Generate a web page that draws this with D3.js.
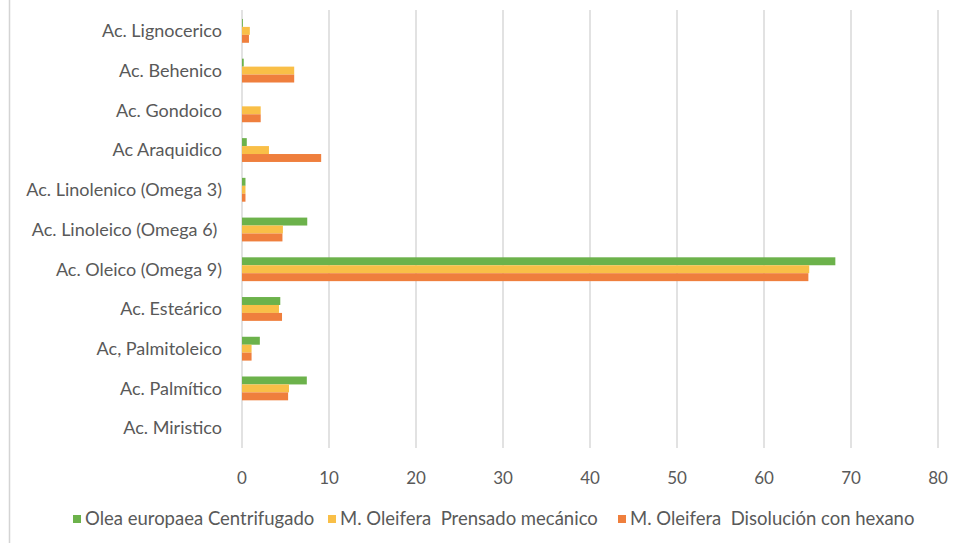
<!DOCTYPE html>
<meta charset="utf-8">
<style>
  body { margin: 0; background: #fff; }
  * { font-family: 'Lato', 'Open Sans', sans-serif; }
</style>
<svg width="965" height="543"></svg>
<script src="https://d3js.org/d3.v7.min.js"></script>
<script>
var categories = ["Ac. Lignocerico", "Ac. Behenico", "Ac. Gondoico", "Ac Araquidico",
  "Ac. Linolenico (Omega 3)", "Ac. Linoleico (Omega 6) ", "Ac. Oleico (Omega 9)",
  "Ac. Esteárico", "Ac, Palmitoleico", "Ac. Palmítico", "Ac. Miristico"];
var olea = [0.1, 0.2, 0, 0.55, 0.4, 7.5, 68.2, 4.4, 2.05, 7.45, 0];
var prensado = [0.9, 6.0, 2.15, 3.1, 0.4, 4.7, 65.2, 4.25, 1.1, 5.4, 0];
var hexano = [0.8, 6.0, 2.15, 9.1, 0.4, 4.65, 65.1, 4.6, 1.1, 5.3, 0];
var seriesNames = ["Olea europaea Centrifugado", "M. Oleifera  Prensado mecánico", "M. Oleifera  Disolución con hexano"];
var colors = ["#6cb24b", "#f9bf47", "#ef7f3d"];
var ticks = [0, 10, 20, 30, 40, 50, 60, 70, 80];

var series = [olea, prensado, hexano];
var svg = d3.select("svg");

// frame line on the left edge
svg.append("line").attr("x1", 9.5).attr("x2", 9.5).attr("y1", 0).attr("y2", 543)
  .attr("stroke", "#d4d4d4").attr("stroke-width", 1.5);

var x = d3.scaleLinear().domain([0, 80]).range([242, 938]);
var y = d3.scaleBand().domain(categories).range([11, 448]).paddingInner(0.4).paddingOuter(0.2);
var ySub = d3.scaleBand().domain([0, 1, 2]).range([0, y.bandwidth()]);

// gridlines
svg.append("g").selectAll("line").data(ticks).join("line")
  .attr("x1", d => x(d)).attr("x2", d => x(d))
  .attr("y1", 10).attr("y2", 448)
  .attr("stroke", "#d9d9d9").attr("stroke-width", 1.5);

// bars
series.forEach(function(vals, si) {
  svg.append("g").selectAll("rect").data(vals).join("rect")
    .attr("x", x(0))
    .attr("y", (d, i) => y(categories[i]) + ySub(si))
    .attr("width", d => x(d) - x(0))
    .attr("height", ySub.bandwidth())
    .attr("fill", colors[si]);
});

// category labels
svg.append("g").selectAll("text").data(categories).join("text")
  .attr("x", 222)
  .attr("y", d => y(d) + y.bandwidth() / 2)
  .attr("dy", "0.35em")
  .attr("text-anchor", "end")
  .attr("fill", "#595959")
  .style("font-size", "18px")
  .style("white-space", "pre")
  .text(d => d);

// x tick labels
svg.append("g").selectAll("text").data(ticks).join("text")
  .attr("x", d => x(d))
  .attr("y", 478)
  .attr("dy", "0.35em")
  .attr("text-anchor", "middle")
  .attr("fill", "#595959")
  .style("font-size", "17px")
  .text(d => d);

// legend
var legendX = [73, 328, 618];
var lg = svg.append("g").selectAll("g").data(seriesNames).join("g")
  .attr("transform", (d, i) => "translate(" + legendX[i] + ",519)");
lg.append("rect").attr("x", 0).attr("y", -4).attr("width", 8).attr("height", 8)
  .attr("fill", (d, i) => colors[i]);
lg.append("text").attr("x", 12).attr("dy", "0.35em")
  .attr("fill", "#595959").style("font-size", "18.5px").style("white-space", "pre")
  .text(d => d);
</script>
